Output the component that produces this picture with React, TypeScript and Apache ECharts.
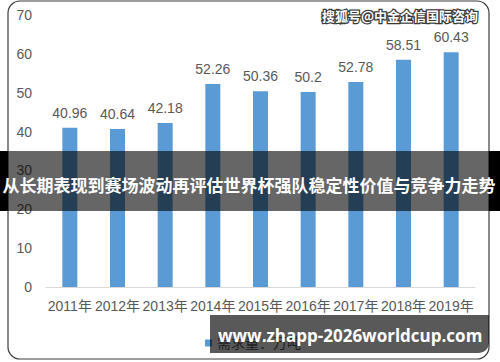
import React, { useEffect, useRef } from "react";
import * as echarts from "echarts";

const categories = ["2011年", "2012年", "2013年", "2014年", "2015年", "2016年", "2017年", "2018年", "2019年"];
const values = [40.96, 40.64, 42.18, 52.26, 50.36, 50.2, 52.78, 58.51, 60.43];
const seriesName = "需求量：万吨";
const bannerTitle = "从长期表现到赛场波动再评估世界杯强队稳定性价值与竞争力走势";
const watermark = "搜狐号@中金企信国际咨询";
const siteText = "www.zhapp-2026worldcup.com";
const yMin = 0;
const yMax = 70;
const yInterval = 10;

const FONT = '"Liberation Sans", "Noto Sans CJK SC", sans-serif';
const GRAY = "#595959";

export default function App() {
  const ref = useRef<HTMLDivElement>(null);
  useEffect(() => {
    document.body.style.margin = "0";
    if (!ref.current) return;
    const chart = echarts.init(ref.current, null, { renderer: "svg" });
    chart.setOption({
      animation: false,
      backgroundColor: "#ffffff",
      textStyle: { fontFamily: FONT },
      grid: { left: 46, right: 25, top: 15, bottom: 75 },
      legend: {
        data: [seriesName],
        left: 200,
        top: 331,
        itemWidth: 7,
        itemHeight: 7,
        icon: "rect",
        textStyle: { color: GRAY, fontSize: 14, fontFamily: FONT },
      },
      xAxis: {
        type: "category",
        data: categories,
        axisLine: { lineStyle: { color: "#d9d9d9", width: 1 } },
        axisTick: { show: false },
        axisLabel: { color: GRAY, fontSize: 14, margin: 12, fontFamily: FONT, interval: 0 },
      },
      yAxis: {
        type: "value",
        min: yMin,
        max: yMax,
        interval: yInterval,
        axisLine: { show: false },
        axisTick: { show: false },
        splitLine: { show: false },
        axisLabel: { color: GRAY, fontSize: 14, margin: 14, fontFamily: FONT },
      },
      series: [
        {
          name: seriesName,
          type: "bar",
          data: values,
          barWidth: 15,
          itemStyle: { color: "#5B9BD5" },
          label: {
            show: true,
            position: "top",
            distance: 8,
            color: GRAY,
            fontSize: 14,
            fontFamily: FONT,
          },
        },
      ],
      graphic: [
        {
          type: "rect",
          z: 100,
          shape: { x: 8, y: 1, width: 481, height: 358, r: 12 },
          style: { fill: "none", stroke: "#3c3c3c", lineWidth: 1.2 },
          silent: true,
        },
        {
          type: "text",
          z: 101,
          x: 478,
          y: 15,
          style: {
            text: watermark,
            align: "right",
            verticalAlign: "middle",
            fill: "#ffffff",
            stroke: "#3a3a3a",
            lineWidth: 2.5,
            font: 'bold 13px "Noto Sans CJK SC", sans-serif',
          },
          silent: true,
        },
        {
          type: "rect",
          z: 200,
          shape: { x: 0, y: 151, width: 500, height: 60 },
          style: { fill: "rgba(0,0,0,0.6)" },
          silent: true,
        },
        {
          type: "rect",
          z: 201,
          shape: { x: 0, y: 151, width: 8, height: 60 },
          style: { fill: "#000000" },
          silent: true,
        },
        {
          type: "rect",
          z: 201,
          shape: { x: 489, y: 151, width: 11, height: 60 },
          style: { fill: "#000000" },
          silent: true,
        },
        {
          type: "text",
          z: 202,
          x: 249,
          y: 184,
          style: {
            text: bannerTitle,
            align: "center",
            verticalAlign: "middle",
            fill: "#ffffff",
            font: 'bold 17px "Noto Sans CJK SC", sans-serif',
          },
          silent: true,
        },
        {
          type: "rect",
          z: 200,
          shape: { x: 210, y: 315, width: 279, height: 38, r: [0, 0, 10, 0] },
          style: { fill: "rgba(0,0,0,0.65)" },
          silent: true,
        },
        {
          type: "text",
          z: 202,
          x: 218,
          y: 335,
          style: {
            text: siteText,
            align: "left",
            verticalAlign: "middle",
            fill: "#ffffff",
            font: 'bold 17px "Open Sans", "Noto Sans", sans-serif',
          },
          silent: true,
        },
      ],
    });
    return () => chart.dispose();
  }, []);
  return <div ref={ref} style={{ width: 500, height: 362 }} />;
}
